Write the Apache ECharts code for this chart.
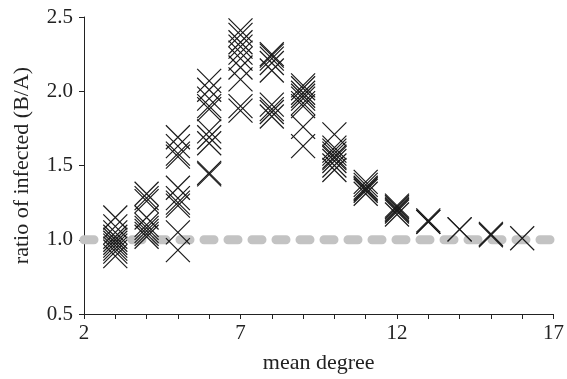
<!DOCTYPE html>
<html>
<head>
<meta charset="utf-8">
<script src="https://cdn.jsdelivr.net/npm/echarts@6/dist/echarts.min.js"></script>
<style>
  html, body { margin: 0; padding: 0; background: #fff; }
  #chart { width: 567px; height: 379px; }
</style>
</head>
<body>
<div id="chart"></div>
<script>
// mean degree of each column of crosses
const degrees = [3, 4, 5, 6, 7, 8, 9, 10, 11, 12, 13, 14, 15, 16];
// ratio of infected (B/A), one list per degree
const ratios = [
  [1.15, 1.09, 1.05, 1.02, 1.0, 0.98, 0.96, 0.94, 0.92, 0.89],
  [1.31, 1.28, 1.26, 1.15, 1.1, 1.08, 1.06, 1.04, 1.02],
  [1.69, 1.63, 1.58, 1.56, 1.35, 1.28, 1.25, 1.23, 1.05, 0.93],
  [2.07, 2.01, 1.95, 1.9, 1.88, 1.73, 1.69, 1.65, 1.45, 1.44],
  [2.41, 2.38, 2.33, 2.3, 2.26, 2.22, 2.16, 2.08, 1.9, 1.87],
  [2.25, 2.24, 2.22, 2.19, 2.14, 1.91, 1.88, 1.86, 1.83],
  [2.04, 2.02, 1.99, 1.97, 1.95, 1.92, 1.9, 1.76, 1.63],
  [1.71, 1.62, 1.6, 1.58, 1.56, 1.55, 1.53, 1.5, 1.47],
  [1.39, 1.37, 1.35, 1.34, 1.33, 1.31],
  [1.23, 1.22, 1.21, 1.2, 1.19, 1.17],
  [1.13, 1.12, 1.12],
  [1.07, 1.07],
  [1.04, 1.03],
  [1.01]
];
// reference level drawn as the grey dashed line
const refLevel = 1.0;
const xRange = [2, 17];
const xLabels = [2, 7, 12, 17];

const FONT = "Liberation Serif";
const points = [];
degrees.forEach((d, i) => ratios[i].forEach((r) => points.push([d, r])));

const chart = echarts.init(document.getElementById("chart"), null, { renderer: "canvas" });
chart.setOption({
  animation: false,
  grid: { left: 84, right: 11, top: 17, bottom: 62 },
  xAxis: {
    type: "value",
    min: xRange[0],
    max: xRange[1],
    interval: 1,
    name: "mean degree",
    nameLocation: "middle",
    nameGap: 38,
    nameTextStyle: { fontFamily: FONT, fontSize: 22, color: "#222" },
    axisLine: { show: true, onZero: false, lineStyle: { color: "#222", width: 1 } },
    axisTick: { show: true, inside: false, length: 5, lineStyle: { color: "#222" } },
    axisLabel: {
      margin: 9,
      fontFamily: FONT,
      fontSize: 21,
      color: "#222",
      formatter: (v) => (xLabels.includes(v) ? String(v) : "")
    },
    splitLine: { show: false }
  },
  yAxis: {
    type: "value",
    min: 0.5,
    max: 2.5,
    interval: 0.5,
    name: "ratio of infected (B/A)",
    nameLocation: "middle",
    nameGap: 51,
    nameTextStyle: { fontFamily: FONT, fontSize: 22, color: "#222" },
    axisLine: { show: true, onZero: false, lineStyle: { color: "#222", width: 1 } },
    axisTick: { show: true, inside: false, length: 5, lineStyle: { color: "#222" } },
    axisLabel: {
      margin: 11,
      fontFamily: FONT,
      fontSize: 21,
      color: "#222",
      formatter: (v) => v.toFixed(1)
    },
    splitLine: { show: false }
  },
  series: [
    {
      type: "line",
      z: 1,
      data: [[xRange[0], refLevel], [xRange[1], refLevel]],
      symbol: "none",
      silent: true,
      lineStyle: { color: "#c3c3c3", width: 9, type: [10, 14], cap: "round" }
    },
    {
      type: "scatter",
      z: 2,
      data: points,
      symbol: "path://M0,0L24,24M24,0L0,24",
      symbolSize: 24,
      itemStyle: { color: "transparent", borderColor: "#1a1a1a", borderWidth: 1.2, opacity: 1 },
      emphasis: { disabled: true }
    }
  ]
});
</script>
</body>
</html>
